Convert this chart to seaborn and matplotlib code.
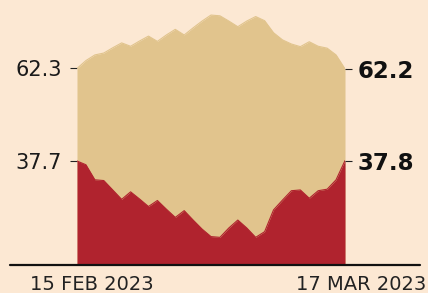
import numpy as np
import pandas as pd
import matplotlib
matplotlib.use("Agg")
import matplotlib.pyplot as plt
import seaborn as sns

# =========================
# data
# =========================
dates = pd.date_range("2023-02-15", "2023-03-17", freq="D")
red_share = [37.7, 36.7, 32.7, 32.5, 30.0, 27.5, 29.5, 27.6, 25.6, 27.2,
             24.9, 22.7, 24.5, 22.0, 19.6, 17.6, 17.4, 19.9, 22.0, 19.9,
             17.4, 18.9, 24.7, 27.3, 29.8, 30.0, 27.8, 29.8, 30.2, 32.7, 37.8]
tan_share = [62.3, 64.4, 65.9, 66.4, 67.8, 69.1, 68.2, 69.6, 70.9, 69.5,
             71.2, 72.7, 71.2, 73.1, 74.9, 76.5, 76.3, 74.9, 73.4, 74.9,
             76.1, 75.0, 71.8, 69.9, 68.8, 68.1, 69.4, 68.2, 67.7, 65.9, 62.2]
start_label = "15 FEB 2023"
end_label = "17 MAR 2023"

df = pd.DataFrame({"date": dates, "red": red_share, "tan": tan_share})

BG = "#FCE8D3"
TAN = "#E1C48D"
RED = "#B0232E"

sns.set_theme(style="white")
plt.rcParams["font.family"] = ["DejaVu Sans"]

fig = plt.figure(figsize=(4.28, 2.93), dpi=100)
fig.patch.set_facecolor(BG)
ax = fig.add_axes([77 / 428, 28 / 293, 268 / 428, 265 / 293])
ax.set_facecolor("none")

ybot = 10.05
ax.fill_between(df["date"], ybot, df["tan"], color=TAN, lw=0)
ax.fill_between(df["date"], ybot, df["red"], color=RED, lw=0)
sns.lineplot(data=df, x="date", y="tan", color=TAN, lw=0.8, ax=ax)
sns.lineplot(data=df, x="date", y="red", color=RED, lw=0.8, ax=ax)

ax.set_xlim(df["date"].iloc[0], df["date"].iloc[-1])
ax.set_ylim(ybot, 80.5)
ax.set_xlabel("")
ax.set_ylabel("")
ax.set_xticks([])
for s in ax.spines.values():
    s.set_visible(False)

# left ticks: first values
first = [red_share[0], tan_share[0]]
ax.set_yticks(first)
ax.set_yticklabels([f"{v:.1f}" for v in first], fontsize=15, color="#1a1a1a")
ax.tick_params(axis="y", left=True, length=5, width=0.8, color="#222222", pad=6)

# right ticks: last values in bold
ax2 = ax.twinx()
ax2.set_ylim(ax.get_ylim())
last = [red_share[-1], tan_share[-1]]
ax2.set_yticks(last)
ax2.set_yticklabels([f"{v:.1f}" for v in last], fontsize=16.5,
                    fontweight="bold", color="#111111")
ax2.tick_params(axis="y", right=True, length=5, width=0.8, color="#222222", pad=4)
for s in ax2.spines.values():
    s.set_visible(False)

# baseline rule, wider than the area
ax.axhline(ybot, xmin=-0.25, xmax=1.28, color="#111111", lw=1.6, clip_on=False)

fig.text(30 / 428, 3 / 293, start_label, ha="left", va="baseline",
         fontsize=14, color="#222222")
fig.text(426 / 428, 3 / 293, end_label, ha="right", va="baseline",
         fontsize=14, color="#222222")

fig.savefig("out.png", dpi=100, facecolor=BG)
